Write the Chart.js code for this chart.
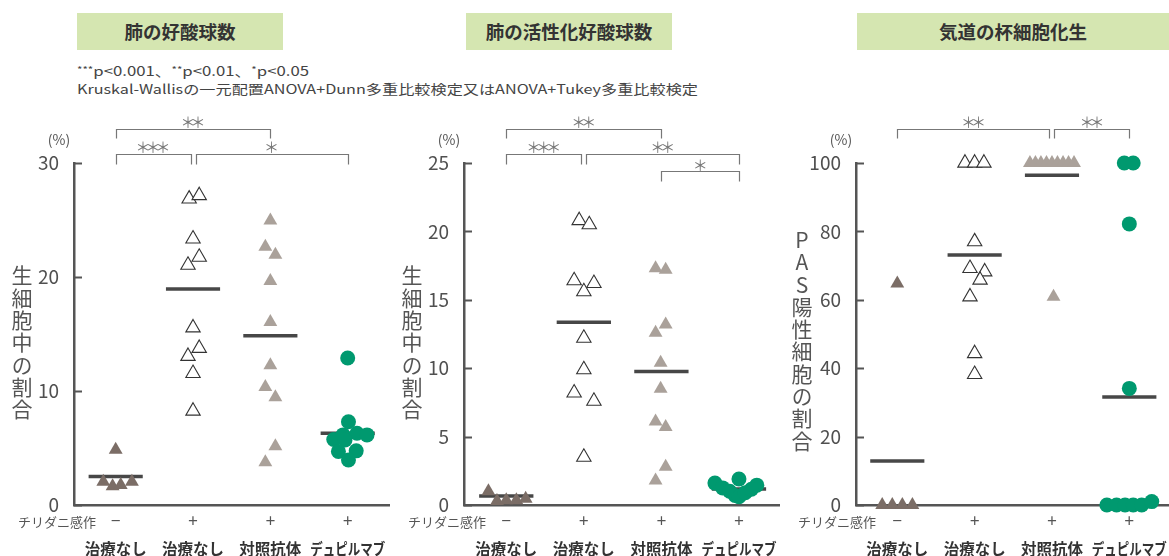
<!DOCTYPE html>
<html lang="ja">
<head>
<meta charset="utf-8">
<script src="https://cdn.jsdelivr.net/npm/chart.js@4.4.1/dist/chart.umd.min.js"></script>
<style>
html,body{margin:0;padding:0;background:#fff;}
body{width:1169px;height:556px;position:relative;overflow:hidden;font-family:"Noto Sans CJK JP","Noto Sans",sans-serif;}
.panel{position:absolute;top:0;}
canvas{display:block;}
.title{position:absolute;top:13px;height:37px;background:#d5e6b1;color:#333;font-weight:bold;font-size:18.5px;line-height:37px;text-align:center;}
.note{position:absolute;left:77px;font-size:13px;line-height:16px;color:#444;white-space:nowrap;transform-origin:left center;}
.note .st{font-size:9px;vertical-align:3px;}
.ytitle{position:absolute;writing-mode:vertical-rl;text-orientation:upright;font-size:21px;line-height:22px;letter-spacing:1.3px;color:#555;transform:translate(-50%,-50%);white-space:nowrap;}
</style>
</head>
<body>
<div class="title" style="left:77px;width:206px;">肺の好酸球数</div>
<div class="title" style="left:466px;width:206px;">肺の活性化好酸球数</div>
<div class="title" style="left:857px;width:312px;">気道の杯細胞化生</div>
<div class="note" id="note1" style="top:62px;"><span class="st">***</span>p&lt;0.001、<span class="st">**</span>p&lt;0.01、<span class="st">*</span>p&lt;0.05</div>
<div class="note" id="note2" style="top:81px;">Kruskal-Wallisの一元配置ANOVA+Dunn多重比較検定又はANOVA+Tukey多重比較検定</div>

<div class="panel" style="left:0;"><canvas id="c1" width="390" height="556"></canvas></div>
<div class="panel" style="left:390px;"><canvas id="c2" width="390" height="556"></canvas></div>
<div class="panel" style="left:780px;"><canvas id="c3" width="389" height="556"></canvas></div>

<div class="ytitle" style="left:22px;top:343px;">生細胞中の割合</div>
<div class="ytitle" style="left:412px;top:343px;">生細胞中の割合</div>
<div class="ytitle" style="left:802px;top:341px;">PAS陽性細胞の割合</div>

<script>
// ---- shared labels ----
const groupNames = ['治療なし', '治療なし', '対照抗体', 'デュピルマブ'];
const miteSigns = ['−', '+', '+', '+'];
const miteLabel = 'チリダニ感作';
const unitLabel = '(%)';

// ---- 肺の好酸球数 (%) ----
const eosTicks = [0, 10, 20, 30];
const eosNaive = [4.85, 2.05, 1.65, 1.75, 2.05];
const eosNaiveJit = [0, -0.16, -0.04, 0.065, 0.21];
const eosUntreated = [26.85, 27.15, 23.35, 21.75, 21.05, 15.55, 13.75, 13.05, 11.55, 8.25];
const eosUntreatedJit = [-0.05, 0.08, 0, 0.08, -0.065, 0, 0.08, -0.065, 0, 0];
const eosControl = [24.95, 22.65, 21.95, 19.65, 16.05, 12.25, 10.35, 9.45, 5.15, 3.75];
const eosControlJit = [0, -0.065, 0.065, 0, 0, 0, -0.065, 0.065, 0.065, -0.065];
const eosDupi = [12.9, 7.3, 5.75, 6.15, 6.3, 6.15, 5.7, 4.7, 4.75, 3.95];
const eosDupiJit = [0, 0.01, -0.18, -0.06, 0.12, 0.25, -0.035, -0.12, 0.11, 0.01];
const eosMeans = [2.5, 18.95, 14.85, 6.3];
const eosSig = [[1, 3, 0, '**'], [1, 2, 1, '***'], [2, 4, 1, '*']];

// ---- 肺の活性化好酸球数 (%) ----
const actTicks = [0, 5, 10, 15, 20, 25];
const actNaive = [1.0, 0.3, 0.35, 0.35, 0.45];
const actNaiveJit = [-0.23, -0.12, 0, 0.13, 0.25];
const actUntreated = [20.8, 20.5, 16.4, 16.2, 15.6, 12.2, 9.9, 8.2, 7.6, 3.5];
const actUntreatedJit = [-0.06, 0.07, -0.125, 0.13, 0, 0, 0, -0.125, 0.13, 0];
const actControl = [17.3, 17.2, 13.2, 12.6, 10.4, 8.5, 6.1, 5.7, 2.8, 1.8];
const actControlJit = [-0.075, 0.055, 0.055, -0.075, -0.01, -0.01, -0.075, 0.055, 0.055, -0.075];
const actDupi = [1.9, 1.6, 1.45, 1.25, 1.0, 0.7, 0.6, 0.9, 1.15];
const actDupiJit = [0, -0.31, 0.23, -0.21, -0.12, -0.05, 0, 0.08, 0.16];
const actMeans = [0.66, 13.36, 9.75, 1.17];
const actSig = [[1, 3, 0, '**'], [1, 2, 1, '***'], [2, 4, 1, '**'], [3, 4, 2, '*']];

// ---- 気道の杯細胞化生 PAS陽性細胞 (%) ----
const gobTicks = [0, 20, 40, 60, 80, 100];
const gobNaive = [64.8, 0, 0, 0, 0];
const gobNaiveJit = [0, -0.195, -0.065, 0.065, 0.195];
const gobUntreated = [100, 100, 100, 77.0, 69.2, 68.2, 65.8, 60.9, 44.3, 38.2];
const gobUntreatedJit = [-0.125, 0, 0.12, 0, -0.06, 0.13, 0.07, -0.06, 0, 0];
const gobControl = [100, 100, 100, 100, 100, 100, 100, 100, 100, 60.9];
const gobControlJit = [-0.285, -0.214, -0.143, -0.071, 0, 0.071, 0.143, 0.214, 0.285, 0.02];
const gobDupi = [100, 100, 82.2, 34.1, 0, 0, 0, 0, 0, 1.0];
const gobDupiJit = [-0.065, 0.05, 0, 0, -0.29, -0.165, -0.055, 0.05, 0.16, 0.29];
const gobMeans = [12.9, 73.1, 96.4, 31.6];
const gobSig = [[1, 3, 0, '**'], [3, 4, 0, '**']];

// ---- marker styles per group ----
const groupStyles = [
  {pointStyle: 'triangle', pointRadius: 8, backgroundColor: '#7b6d66', borderColor: '#7b6d66', borderWidth: 0},
  {pointStyle: 'triangle', pointRadius: 8.3, backgroundColor: '#ffffff', borderColor: '#333333', borderWidth: 1.1},
  {pointStyle: 'triangle', pointRadius: 8, backgroundColor: '#aaa19a', borderColor: '#aaa19a', borderWidth: 0},
  {pointStyle: 'circle', pointRadius: 7.5, backgroundColor: '#00996f', borderColor: '#00996f', borderWidth: 0}
];
const MEAN_HALF = 0.35;
const FONT = '"Noto Sans CJK JP", "Noto Sans", sans-serif';

function groupData(vals, jit, cat) {
  return vals.map((v, i) => ({x: cat + jit[i], y: v}));
}

function buildDatasets(groups, means) {
  const sets = [];
  groups.forEach((g, i) => {
    const cat = i + 1;
    sets.push(Object.assign({
      type: 'scatter', data: groupData(g[0], g[1], cat), order: 1, clip: false,
      pointHoverRadius: 0
    }, groupStyles[i]));
    sets.push({
      type: 'line', data: [{x: cat - MEAN_HALF, y: means[i]}, {x: cat + MEAN_HALF, y: means[i]}],
      borderColor: '#474747', borderWidth: 3.5, pointRadius: 0, order: 2, clip: false,
      borderCapStyle: 'butt'
    });
  });
  return sets;
}

// Brackets, inward ticks, category rows and unit label
const panelDeco = {
  id: 'panelDeco',
  afterDraw(chart, args, opts) {
    const ctx = chart.ctx;
    const xs = chart.scales.x, ys = chart.scales.y;
    const area = chart.chartArea;
    ctx.save();

    // inward tick marks on the y axis
    ctx.strokeStyle = '#555';
    ctx.lineWidth = 2;
    ys.ticks.forEach(t => {
      const py = Math.round(ys.getPixelForValue(t.value)) + 0.5;
      ctx.beginPath();
      ctx.moveTo(area.left, py);
      ctx.lineTo(area.left + 8, py);
      ctx.stroke();
    });

    // unit label
    ctx.fillStyle = '#555';
    ctx.font = '14px ' + FONT;
    ctx.textAlign = 'center';
    ctx.textBaseline = 'middle';
    ctx.fillText(unitLabel, area.left - 15, area.top - 23);

    // significance brackets
    const rows = [
      {h: -34, leg: 9, star: -41.5},
      {h: -9, leg: 10, star: -16.5},
      {h: 8, leg: 10, star: 1}
    ];
    const sig = opts.brackets || [];
    ctx.strokeStyle = '#777';
    ctx.lineWidth = 1.2;
    sig.forEach((b, k) => {
      const [a, z, row, stars] = b;
      const r = rows[row];
      let x1 = xs.getPixelForValue(a), x2 = xs.getPixelForValue(z);
      sig.forEach((o, j) => {
        if (j === k || o[2] !== row) return;
        if (o[1] === a) x1 += 2.5;
        if (o[0] === z) x2 -= 2.5;
      });
      const yh = Math.round(area.top + r.h) + 0.5;
      ctx.beginPath();
      ctx.moveTo(Math.round(x1) + 0.5, yh + r.leg);
      ctx.lineTo(Math.round(x1) + 0.5, yh);
      ctx.lineTo(Math.round(x2) + 0.5, yh);
      ctx.lineTo(Math.round(x2) + 0.5, yh + r.leg);
      ctx.stroke();
      // stars
      ctx.fillStyle = '#777';
      ctx.font = '15px ' + FONT;
      ctx.textAlign = 'center';
      ctx.textBaseline = 'middle';
      const cx = (x1 + x2) / 2, n = stars.length, sp = 10;
      for (let s = 0; s < n; s++) {
        ctx.fillText('＊', cx + (s - (n - 1) / 2) * sp, area.top + r.star + 1);
      }
    });

    // category rows below the axis
    ctx.fillStyle = '#555';
    ctx.textAlign = 'left';
    ctx.textBaseline = 'middle';
    ctx.font = '13px ' + FONT;
    ctx.fillText(miteLabel, 18, 522, 78);
    groupNames.forEach((name, i) => {
      const px = xs.getPixelForValue(i + 1);
      ctx.fillStyle = '#555';
      ctx.textAlign = 'center';
      ctx.font = '17px ' + FONT;
      ctx.fillText(miteSigns[i], px, 521);
      ctx.fillStyle = '#333';
      ctx.font = 'bold 15.5px ' + FONT;
      ctx.fillText(name, px, 549, name.length > 4 ? 75 : 62);
    });
    ctx.restore();
  }
};

function makePanel(id, groups, means, ticks, xmin, xmax, axisW, brackets) {
  const ymax = ticks[ticks.length - 1];
  return new Chart(document.getElementById(id), {
    data: {datasets: buildDatasets(groups, means)},
    options: {
      responsive: false,
      animation: false,
      events: [],
      layout: {autoPadding: false, padding: {top: 163, bottom: 51, left: 0, right: 0}},
      plugins: {legend: {display: false}, tooltip: {enabled: false}, panelDeco: {brackets}},
      scales: {
        x: {
          type: 'linear', min: xmin, max: xmax,
          grid: {display: false},
          ticks: {display: false},
          border: {display: true, color: '#555', width: 2.5},
          afterFit: s => { s.height = 0; }
        },
        y: {
          type: 'linear', min: 0, max: ymax,
          afterBuildTicks: s => { s.ticks = ticks.map(v => ({value: v})); },
          grid: {display: false},
          ticks: {color: '#505050', padding: 7, font: {size: 19, family: FONT}},
          border: {display: true, color: '#555', width: 2.5},
          afterFit: s => { s.width = axisW; }
        }
      }
    },
    plugins: [panelDeco]
  });
}

makePanel('c1',
  [[eosNaive, eosNaiveJit], [eosUntreated, eosUntreatedJit], [eosControl, eosControlJit], [eosDupi, eosDupiJit]],
  eosMeans, eosTicks, 0.461, 4.547, 74, eosSig);
makePanel('c2',
  [[actNaive, actNaiveJit], [actUntreated, actUntreatedJit], [actControl, actControlJit], [actDupi, actDupiJit]],
  actMeans, actTicks, 0.455, 4.529, 74, actSig);
makePanel('c3',
  [[gobNaive, gobNaiveJit], [gobUntreated, gobUntreatedJit], [gobControl, gobControlJit], [gobDupi, gobDupiJit]],
  gobMeans, gobTicks, 0.466, 4.513, 76, gobSig);

// fit the note lines to their set widths
function fitWidth(el, w) {
  const cur = el.getBoundingClientRect().width;
  if (cur > 0) el.style.transform = 'scaleX(' + (w / cur) + ')';
}
fitWidth(document.getElementById('note1'), 232);
fitWidth(document.getElementById('note2'), 621);
</script>
</body>
</html>
